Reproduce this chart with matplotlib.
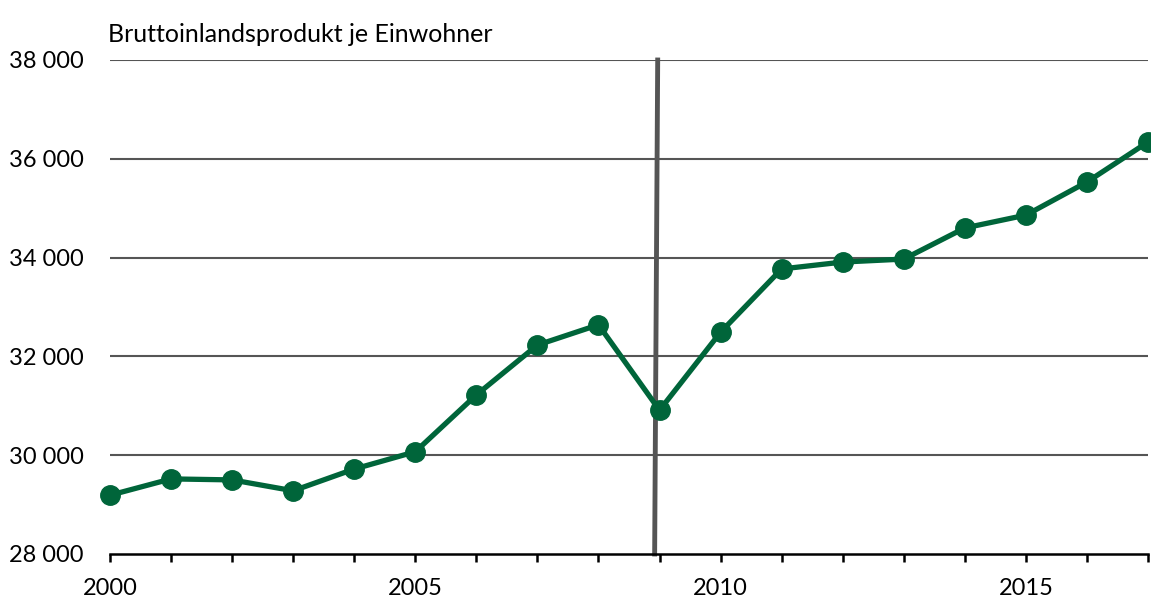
import matplotlib
matplotlib.use("Agg")
import matplotlib.pyplot as plt

# Daten: BIP je Einwohner
years = list(range(2000, 2018))
bip = [29190, 29520, 29500, 29280, 29720, 30070, 31220, 32230, 32640,
       30910, 32490, 33770, 33910, 33970, 34600, 34860, 35530, 36340]
yticks = [28000, 30000, 32000, 34000, 36000, 38000]
ytick_labels = ["28 000", "30 000", "32 000", "34 000", "36 000", "38 000"]
title = "Bruttoinlandsprodukt je Einwohner"
break_year = 2008.95

plt.rcParams['font.family'] = ['Lato', 'DejaVu Sans']

fig = plt.figure(figsize=(11.51, 6.01), dpi=100)
ax = fig.add_axes([110 / 1151, 1 - 554 / 601, 1038 / 1151, 494 / 601])

ax.set_xlim(2000, 2017)
ax.set_ylim(28000, 38000)

# Gitterlinien
for y in yticks[1:]:
    ax.axhline(y, color="#555555", lw=1.5, zorder=1)

# Bruchlinie 2009
ax.plot([break_year + 0.02, break_year - 0.03], [38000, 28000],
        color="#555555", lw=3.5, zorder=2, clip_on=False)

ax.plot(years, bip, color="#00653a", lw=3.8, marker="o", ms=14,
        zorder=3, clip_on=False)

for s in ["top", "right", "left"]:
    ax.spines[s].set_visible(False)
ax.spines["bottom"].set_linewidth(1.8)
ax.spines["bottom"].set_zorder(4)

ax.set_yticks(yticks)
ax.set_yticklabels(ytick_labels)
ax.tick_params(axis="y", length=0, pad=19, labelsize=17)

ax.set_xticks(years)
ax.set_xticklabels([str(y) if y % 5 == 0 else "" for y in years])
ax.tick_params(axis="x", direction="out", length=6, width=1.8, pad=11,
               labelsize=17)

fig.text(108 / 1151, 1 - 35 / 601, title, fontsize=18, va="center", ha="left")

fig.savefig("out.png", dpi=100)
